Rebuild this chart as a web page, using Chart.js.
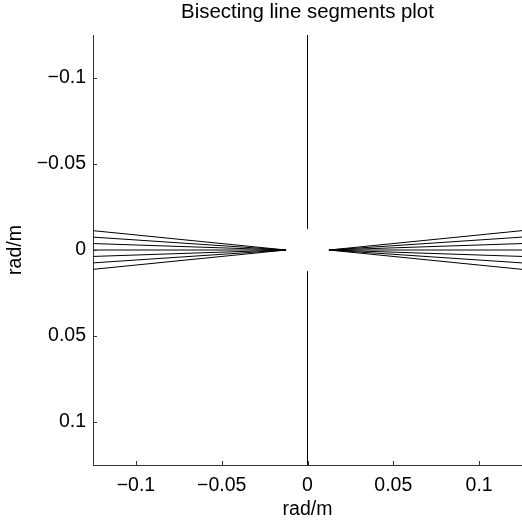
<!DOCTYPE html>
<html>
<head>
<meta charset="utf-8">
<script src="https://cdn.jsdelivr.net/npm/chart.js@4/dist/chart.umd.min.js"></script>
<style>
  html, body { margin: 0; padding: 0; background: #fff; }
  #wrap { width: 522px; height: 525px; }
</style>
</head>
<body>
<div id="wrap"><canvas id="plot"></canvas></div>
<script>
// axis limits (rad/m), y axis runs downwards
var xLimits = [-0.125, 0.125];
var yLimits = [-0.125, 0.125];
var xTicks = [-0.1, -0.05, 0, 0.05, 0.1];
var yTicks = [-0.1, -0.05, 0, 0.05, 0.1];

// fan of segments: y where each one leaves the plot edge, all meet at +/- apexX on y=0
var fanEdgeY = [-0.01125, -0.0075, -0.00375, 0, 0.00375, 0.0075, 0.01125];
var apexX = 0.0125;

// vertical segment at x=0 with a gap around the centre
var stemX = 0;
var stemGap = 0.0125;

var fontFamily = "'Liberation Sans', Arial, sans-serif";
var axisColor = '#333';

function fmt(v) {
  if (Math.abs(v) < 1e-12) return '0';
  return (v < 0 ? '\u2212' : '') + String(Math.abs(v));
}

function seg(a, b) {
  return {
    data: [a, b],
    borderColor: '#000',
    borderWidth: 1,
    pointRadius: 0,
    showLine: true,
    fill: false
  };
}

var datasets = [];
for (var i = 0; i < fanEdgeY.length; i++) {
  datasets.push(seg({x: xLimits[0], y: fanEdgeY[i]}, {x: -apexX, y: 0}));
  datasets.push(seg({x: apexX, y: 0}, {x: xLimits[1], y: fanEdgeY[i]}));
}
datasets.push(seg({x: stemX, y: yLimits[0]}, {x: stemX, y: -stemGap}));
datasets.push(seg({x: stemX, y: stemGap}, {x: stemX, y: yLimits[1]}));

// small ticks pointing into the plot, like the original
var inwardTicks = {
  id: 'inwardTicks',
  afterDraw: function(chart) {
    var ctx = chart.ctx;
    var xs = chart.scales.x, ys = chart.scales.y;
    var area = chart.chartArea;
    ctx.save();
    ctx.strokeStyle = axisColor;
    ctx.lineWidth = 1;
    ctx.beginPath();
    xTicks.forEach(function(v) {
      var px = Math.round(xs.getPixelForValue(v)) + 0.5;
      ctx.moveTo(px, area.bottom);
      ctx.lineTo(px, area.bottom - 4);
    });
    yTicks.forEach(function(v) {
      var py = Math.round(ys.getPixelForValue(v)) + 0.5;
      ctx.moveTo(area.left, py);
      ctx.lineTo(area.left + 4, py);
    });
    ctx.stroke();
    ctx.restore();
  }
};

new Chart(document.getElementById('plot'), {
  type: 'scatter',
  data: { datasets: datasets },
  plugins: [inwardTicks],
  options: {
    responsive: true,
    maintainAspectRatio: false,
    animation: false,
    layout: { padding: 0 },
    plugins: {
      legend: { display: false },
      tooltip: { enabled: false },
      title: { display: false }
    },
    scales: {
      // top axis only carries the plot title so it is centred over the plot area
      top: {
        type: 'linear',
        position: 'top',
        min: xLimits[0],
        max: xLimits[1],
        afterFit: function(scale) { scale.height = 35; },
        grid: { display: false, drawTicks: false },
        border: { display: false },
        ticks: { display: false },
        title: {
          display: true,
          text: 'Bisecting line segments plot',
          color: '#000',
          font: { family: fontFamily, size: 20.4 },
          padding: { top: 0, bottom: 0 }
        }
      },
      x: {
        type: 'linear',
        position: 'bottom',
        min: xLimits[0],
        max: xLimits[1],
        afterBuildTicks: function(scale) {
          scale.ticks = xTicks.map(function(v) { return {value: v}; });
        },
        afterFit: function(scale) { scale.height = 60; },
        grid: { display: false, drawTicks: false },
        border: { display: true, color: axisColor, width: 1 },
        ticks: {
          color: '#000',
          padding: 9,
          maxRotation: 0,
          font: { family: fontFamily, size: 19.5 },
          callback: function(v) { return fmt(v); }
        },
        title: {
          display: true,
          text: 'rad/m',
          color: '#000',
          font: { family: fontFamily, size: 19.5 },
          padding: { top: 0, bottom: 4 }
        }
      },
      y: {
        type: 'linear',
        reverse: true,
        min: yLimits[0],
        max: yLimits[1],
        afterBuildTicks: function(scale) {
          scale.ticks = yTicks.map(function(v) { return {value: v}; });
        },
        afterFit: function(scale) { scale.width = 93; },
        grid: { display: false, drawTicks: false },
        border: { display: true, color: axisColor, width: 1 },
        ticks: {
          color: '#000',
          padding: 7,
          font: { family: fontFamily, size: 19.5 },
          callback: function(v) { return fmt(v); }
        },
        title: {
          display: true,
          text: 'rad/m',
          color: '#000',
          font: { family: fontFamily, size: 19.5 },
          padding: { top: 4, bottom: 0 }
        }
      }
    }
  }
});
</script>
</body>
</html>
